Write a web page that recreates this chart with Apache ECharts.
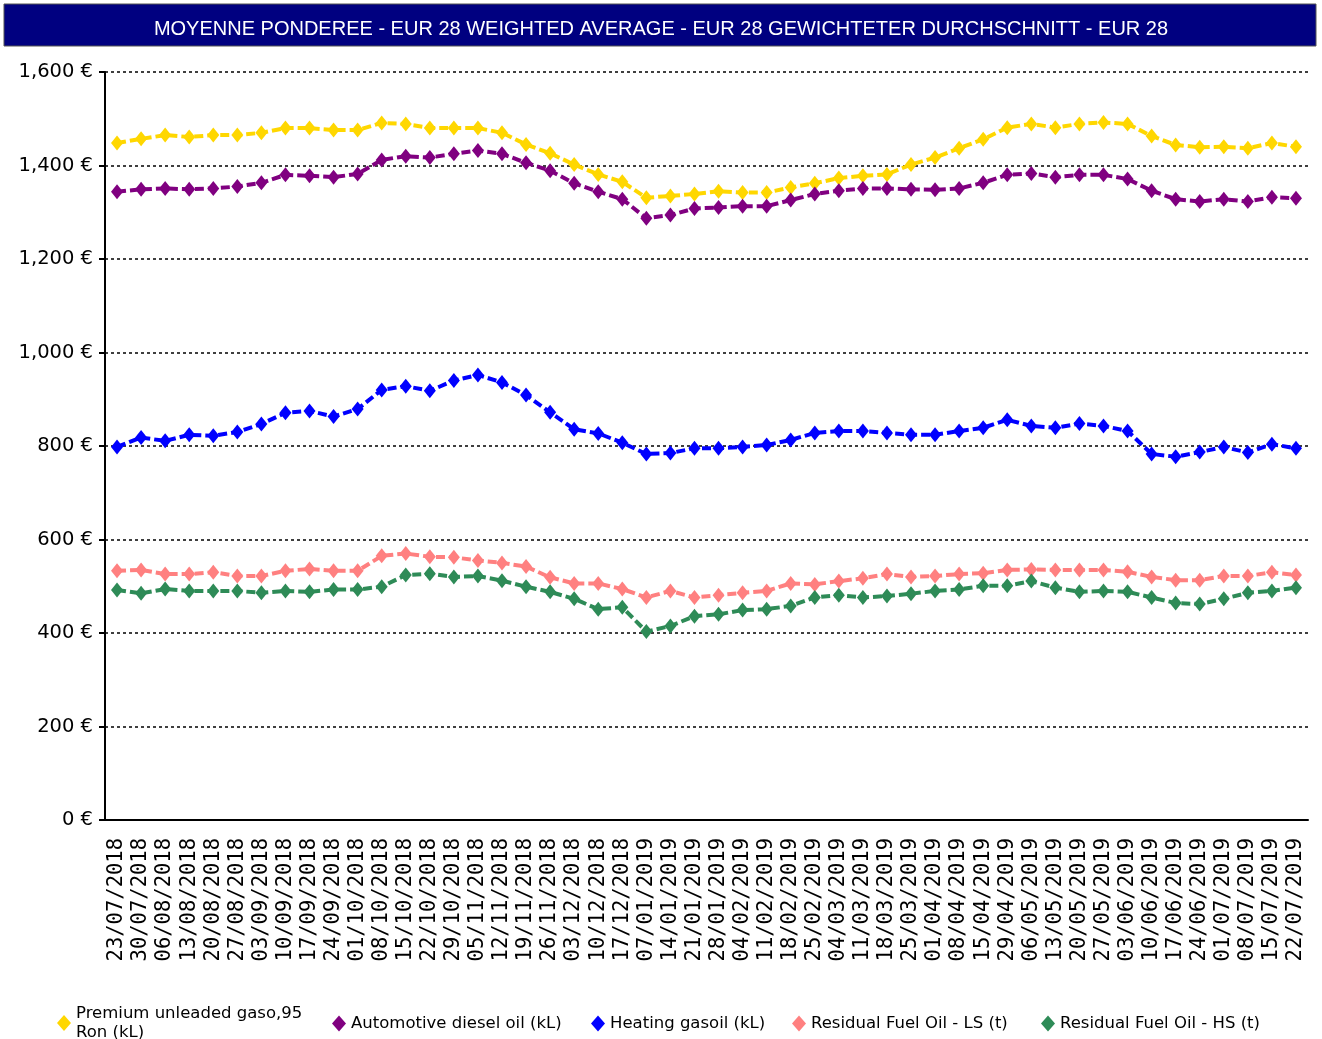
<!DOCTYPE html>
<html>
<head>
<meta charset="utf-8">
<script src="https://cdn.jsdelivr.net/npm/echarts@6/dist/echarts.min.js"></script>
<style>
  html, body { margin: 0; padding: 0; background: #fff; }
  #chart { width: 1322px; height: 1039px; }
</style>
</head>
<body>
<div id="chart"></div>
<script>
// weekly dates
const dates = [
  "23/07/2018", "30/07/2018", "06/08/2018", "13/08/2018", "20/08/2018", "27/08/2018",
  "03/09/2018", "10/09/2018", "17/09/2018", "24/09/2018", "01/10/2018", "08/10/2018",
  "15/10/2018", "22/10/2018", "29/10/2018", "05/11/2018", "12/11/2018", "19/11/2018",
  "26/11/2018", "03/12/2018", "10/12/2018", "17/12/2018", "07/01/2019", "14/01/2019",
  "21/01/2019", "28/01/2019", "04/02/2019", "11/02/2019", "18/02/2019", "25/02/2019",
  "04/03/2019", "11/03/2019", "18/03/2019", "25/03/2019", "01/04/2019", "08/04/2019",
  "15/04/2019", "29/04/2019", "06/05/2019", "13/05/2019", "20/05/2019", "27/05/2019",
  "03/06/2019", "10/06/2019", "17/06/2019", "24/06/2019", "01/07/2019", "08/07/2019",
  "15/07/2019", "22/07/2019"
];

const premium = [
  1448, 1457, 1465, 1461, 1465, 1465, 1470, 1480, 1480, 1476, 1476, 1491,
  1489, 1480, 1480, 1480, 1470, 1445, 1426, 1402, 1381, 1365, 1331, 1335,
  1339, 1345, 1342, 1342, 1353, 1362, 1373, 1378, 1381, 1402, 1417, 1437,
  1456, 1481, 1489, 1481, 1489, 1492, 1489, 1463, 1444, 1439, 1440, 1437,
  1448, 1440
];
const diesel = [
  1344, 1349, 1351, 1349, 1351, 1355, 1363, 1380, 1378, 1375, 1382, 1412,
  1420, 1417, 1425, 1432, 1425, 1406, 1389, 1362, 1344, 1328, 1287, 1294,
  1308, 1310, 1313, 1313, 1326, 1339, 1346, 1351, 1351, 1349, 1348, 1351,
  1363, 1380, 1383, 1375, 1380, 1380, 1371, 1346, 1328, 1323, 1328, 1323,
  1332, 1330
];
const heating = [
  798, 818, 811, 824, 822, 830, 847, 871, 875, 863, 879, 920,
  928, 918, 940, 952, 936, 909, 872, 836, 827, 807, 783, 785,
  795, 795, 798, 802, 813, 828, 832, 832, 828, 824, 824, 832,
  839, 856, 843, 839, 848, 843, 832, 783, 777, 787, 798, 786,
  804, 795
];
const fuelLS = [
  533, 535, 526, 526, 530, 522, 522, 533, 537, 533, 533, 565,
  570, 563, 562, 555, 550, 542, 519, 506, 506, 494, 476, 490,
  476, 481, 486, 490, 506, 504, 511, 517, 526, 520, 522, 526,
  528, 535, 536, 535, 535, 535, 531, 520, 513, 513, 522, 522,
  530, 524
];
const fuelHS = [
  492, 485, 494, 490, 490, 490, 486, 490, 488, 493, 493, 499,
  524, 527, 520, 522, 512, 499, 488, 473, 451, 455, 403, 415,
  436, 440, 449, 451, 458, 476, 481, 476, 479, 484, 490, 493,
  501, 501, 511, 497, 488, 490, 488, 476, 464, 462, 473, 486,
  490, 497
];

const seriesNames = [
  "Premium unleaded gaso,95\nRon (kL)",
  "Automotive diesel oil (kL)",
  "Heating gasoil (kL)",
  "Residual Fuel Oil - LS (t)",
  "Residual Fuel Oil - HS (t)"
];
const seriesColors = ["#FFD700", "#800080", "#0000FF", "#FF8080", "#2E8B57"];
const seriesData = [premium, diesel, heating, fuelLS, fuelHS];
const legendLeft = [52, 327, 586, 787, 1036];

const chart = echarts.init(document.getElementById("chart"));

const option = {
  animation: false,
  title: {
    text: "MOYENNE PONDEREE - EUR 28 WEIGHTED AVERAGE - EUR 28 GEWICHTETER DURCHSCHNITT - EUR 28",
    left: "center",
    top: 14,
    textStyle: {
      color: "#fff",
      fontFamily: "Liberation Sans",
      fontSize: 20,
      fontWeight: "normal"
    }
  },
  graphic: [
    {
      type: "rect",
      z: -1,
      shape: { x: 4, y: 4, width: 1312, height: 42 },
      style: { fill: "#000080", stroke: "#555", lineWidth: 1 }
    }
  ],
  legend: seriesNames.map((name, i) => ({
    data: [name],
    left: legendLeft[i],
    top: i === 0 ? 999 : 1009,
    itemWidth: 14,
    itemHeight: 16,
    icon: "diamond",
    itemGap: 6,
    textStyle: {
      fontFamily: "DejaVu Sans",
      fontSize: 16.5,
      color: "#000",
      lineHeight: 19
    }
  })),
  grid: {
    left: 105,
    right: 14,
    top: 72,
    bottom: 219
  },
  xAxis: {
    type: "category",
    data: dates,
    boundaryGap: true,
    axisLine: { lineStyle: { color: "#000", width: 2 } },
    axisTick: { alignWithLabel: true, length: 6, lineStyle: { color: "#000", width: 2 } },
    axisLabel: {
      interval: 0,
      rotate: 90,
      margin: 18,
      color: "#000",
      fontFamily: "DejaVu Sans Mono",
      fontSize: 20.5
    }
  },
  yAxis: {
    type: "value",
    min: 0,
    max: 1600,
    interval: 200,
    axisLine: { show: true, lineStyle: { color: "#000", width: 2 } },
    axisTick: { show: true, length: 6, lineStyle: { color: "#000", width: 2 } },
    axisLabel: {
      color: "#000",
      fontFamily: "DejaVu Sans",
      fontSize: 19.5,
      margin: 12,
      formatter: (v) => v.toLocaleString("en-US") + " €"
    },
    splitLine: {
      lineStyle: { color: "#000", type: [3, 3], width: 1.5 }
    }
  },
  series: seriesNames.map((name, i) => ({
    name: name,
    type: "line",
    data: seriesData[i],
    symbol: "diamond",
    symbolSize: [12, 15],
    color: seriesColors[i],
    lineStyle: { width: 4, type: [9, 4], color: seriesColors[i] },
    itemStyle: { color: seriesColors[i] }
  }))
};

chart.setOption(option);

window.addEventListener("resize", () => {
  chart.resize();
});
</script>
</body>
</html>
